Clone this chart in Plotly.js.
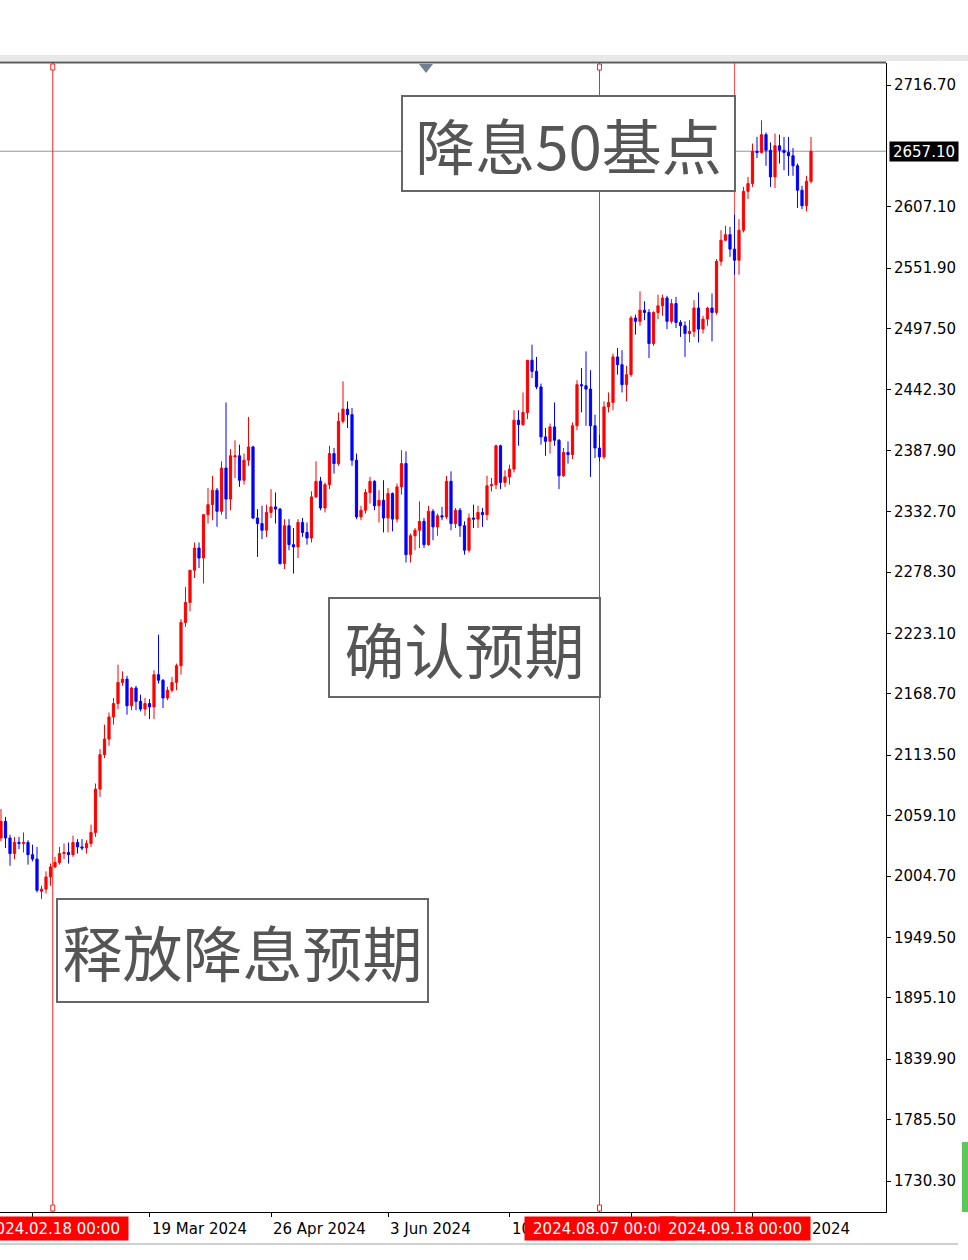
<!DOCTYPE html>
<html>
<head>
<meta charset="utf-8">
<script src="https://cdn.plot.ly/plotly-3.0.1.min.js"></script>
<style>
html,body{margin:0;padding:0;background:#fff;}
#chart{width:968px;height:1260px;}
</style>
</head>
<body>
<div id="chart"></div>
<script>
// ---- data (XAUUSD daily) ----
const dates = [
"2024-01-31",
"2024-02-01","2024-02-02","2024-02-05","2024-02-06","2024-02-07","2024-02-08","2024-02-09","2024-02-12","2024-02-13","2024-02-14","2024-02-15","2024-02-16","2024-02-19","2024-02-20","2024-02-21","2024-02-22","2024-02-23","2024-02-26","2024-02-27","2024-02-28","2024-02-29",
"2024-03-01","2024-03-04","2024-03-05","2024-03-06","2024-03-07","2024-03-08","2024-03-11","2024-03-12","2024-03-13","2024-03-14","2024-03-15","2024-03-18","2024-03-19","2024-03-20","2024-03-21","2024-03-22","2024-03-25","2024-03-26","2024-03-27","2024-03-28",
"2024-04-01","2024-04-02","2024-04-03","2024-04-04","2024-04-05","2024-04-08","2024-04-09","2024-04-10","2024-04-11","2024-04-12","2024-04-15","2024-04-16","2024-04-17","2024-04-18","2024-04-19","2024-04-22","2024-04-23","2024-04-24","2024-04-25","2024-04-26","2024-04-29","2024-04-30",
"2024-05-01","2024-05-02","2024-05-03","2024-05-06","2024-05-07","2024-05-08","2024-05-09","2024-05-10","2024-05-13","2024-05-14","2024-05-15","2024-05-16","2024-05-17","2024-05-20","2024-05-21","2024-05-22","2024-05-23","2024-05-24","2024-05-27","2024-05-28","2024-05-29","2024-05-30","2024-05-31",
"2024-06-03","2024-06-04","2024-06-05","2024-06-06","2024-06-07","2024-06-10","2024-06-11","2024-06-12","2024-06-13","2024-06-14","2024-06-17","2024-06-18","2024-06-19","2024-06-20","2024-06-21","2024-06-24","2024-06-25","2024-06-26","2024-06-27","2024-06-28",
"2024-07-01","2024-07-02","2024-07-03","2024-07-04","2024-07-05","2024-07-08","2024-07-09","2024-07-10","2024-07-11","2024-07-12","2024-07-15","2024-07-16","2024-07-17","2024-07-18","2024-07-19","2024-07-22","2024-07-23","2024-07-24","2024-07-25","2024-07-26","2024-07-29","2024-07-30","2024-07-31",
"2024-08-01","2024-08-02","2024-08-05","2024-08-06","2024-08-07","2024-08-08","2024-08-09","2024-08-12","2024-08-13","2024-08-14","2024-08-15","2024-08-16","2024-08-19","2024-08-20","2024-08-21","2024-08-22","2024-08-23","2024-08-26","2024-08-27","2024-08-28","2024-08-29","2024-08-30",
"2024-09-02","2024-09-03","2024-09-04","2024-09-05","2024-09-06","2024-09-09","2024-09-10","2024-09-11","2024-09-12","2024-09-13","2024-09-16","2024-09-17","2024-09-18","2024-09-19","2024-09-20","2024-09-23","2024-09-24","2024-09-25","2024-09-26","2024-09-27","2024-09-30",
"2024-10-01","2024-10-02","2024-10-03","2024-10-04","2024-10-07","2024-10-08","2024-10-09","2024-10-10","2024-10-11"
];
const openP = [
2036,
2039,2054,2039,2025,2035,2034,2035,2024,2020,1991,1993,2004,2013,2017,2025,2026,2024,2035,2031,2030,2034,
2044,2083,2114,2128,2148,2160,2179,2182,2158,2174,2162,2155,2160,2157,2186,2181,2165,2172,2179,2194,
2233,2251,2280,2300,2291,2330,2339,2352,2333,2372,2344,2382,2383,2361,2379,2391,2327,2322,2316,2332,2337,2335,
2286,2320,2303,2301,2323,2314,2309,2346,2360,2336,2357,2385,2376,2414,2425,2420,2379,2328,2334,2350,2360,2338,2343,
2327,2349,2326,2355,2376,2294,2311,2316,2324,2303,2333,2319,2329,2328,2360,2322,2334,2320,2298,2327,
2326,2332,2330,2356,2357,2392,2359,2364,2371,2415,2411,2422,2469,2459,2445,2400,2396,2409,2397,2365,2386,2384,2410,
2447,2446,2443,2410,2390,2382,2427,2431,2472,2465,2447,2456,2507,2504,2514,2512,2484,2512,2518,2525,2504,2520,
2503,2500,2493,2495,2516,2497,2506,2516,2512,2558,2577,2582,2569,2559,2586,2621,2628,2657,2656,2672,2658,
2634,2662,2658,2656,2653,2644,2622,2608,2630
];
const highP = [
2055,
2065,2058,2042,2040,2040,2044,2037,2033,2031,1996,2009,2016,2022,2031,2034,2035,2041,2038,2038,2037,2051,
2088,2119,2141,2152,2165,2195,2189,2185,2175,2176,2168,2165,2164,2190,2222,2182,2175,2184,2196,2236,
2265,2280,2305,2305,2330,2354,2365,2354,2378,2431,2389,2397,2393,2385,2418,2392,2335,2338,2339,2353,2350,2336,
2326,2326,2318,2326,2327,2323,2351,2378,2364,2359,2392,2390,2422,2450,2432,2426,2385,2338,2353,2364,2361,2352,2361,
2354,2350,2358,2388,2387,2313,2318,2342,2327,2338,2335,2331,2337,2365,2369,2336,2336,2324,2331,2339,
2338,2336,2365,2363,2393,2393,2370,2375,2424,2424,2440,2469,2483,2472,2448,2408,2412,2431,2398,2390,2396,2413,2451,
2462,2477,2460,2420,2402,2432,2440,2475,2480,2478,2464,2509,2510,2531,2522,2515,2513,2528,2528,2527,2524,2526,
2505,2504,2505,2523,2530,2509,2517,2529,2560,2586,2590,2589,2600,2596,2625,2634,2664,2670,2685,2674,2665,
2673,2672,2670,2670,2660,2646,2626,2635,2670
];
const lowP = [
2031,
2036,2030,2014,2020,2029,2026,2015,2018,1990,1984,1989,1996,2012,2015,2020,2016,2022,2025,2028,2025,2031,
2040,2076,2111,2122,2141,2155,2176,2150,2154,2154,2153,2149,2146,2146,2178,2156,2163,2170,2172,2186,
2229,2243,2273,2282,2268,2322,2325,2319,2330,2326,2334,2363,2355,2357,2374,2326,2292,2308,2310,2327,2322,2285,
2281,2298,2277,2291,2310,2303,2305,2345,2334,2332,2353,2367,2374,2412,2408,2374,2326,2325,2331,2340,2334,2323,2314,
2314,2315,2323,2348,2287,2287,2298,2300,2300,2302,2307,2311,2325,2326,2316,2318,2310,2294,2296,2318,
2318,2319,2325,2351,2353,2353,2355,2357,2368,2392,2410,2416,2453,2443,2393,2383,2385,2392,2353,2364,2376,2380,2406,
2422,2410,2364,2381,2378,2380,2422,2424,2456,2440,2432,2454,2492,2500,2505,2471,2482,2506,2509,2497,2502,2498,
2490,2472,2485,2490,2485,2493,2500,2486,2510,2554,2576,2562,2546,2546,2584,2614,2625,2651,2655,2644,2625,
2624,2646,2640,2635,2635,2606,2605,2603,2628
];
const closeP = [
2039,
2054,2039,2025,2035,2034,2035,2024,2020,1992,1993,2004,2013,2017,2025,2026,2024,2035,2031,2030,2034,2044,
2083,2114,2128,2148,2160,2179,2182,2158,2174,2162,2155,2160,2157,2186,2181,2165,2172,2179,2194,2233,
2251,2280,2300,2291,2330,2339,2352,2333,2372,2344,2383,2383,2361,2379,2391,2327,2322,2316,2332,2337,2335,2286,
2320,2303,2301,2323,2314,2309,2346,2360,2336,2357,2385,2376,2414,2425,2420,2379,2328,2334,2350,2360,2338,2343,2327,
2349,2326,2355,2376,2294,2311,2316,2324,2303,2333,2319,2329,2328,2360,2322,2334,2320,2298,2327,2326,
2332,2330,2356,2357,2392,2359,2364,2371,2415,2411,2422,2469,2459,2445,2400,2396,2409,2397,2365,2386,2384,2410,2447,
2446,2443,2410,2390,2382,2427,2431,2472,2465,2447,2456,2507,2504,2514,2512,2484,2512,2518,2525,2504,2520,2503,
2500,2493,2495,2516,2497,2506,2516,2512,2558,2577,2582,2569,2559,2586,2621,2628,2657,2656,2672,2658,2634,
2662,2658,2656,2653,2644,2622,2608,2630,2657.10
];
const priceTicks = [2716.70,2607.10,2551.90,2497.50,2442.30,2387.90,2332.70,2278.30,2223.10,2168.70,2113.50,2059.10,2004.70,1949.50,1895.10,1839.90,1785.50,1730.30];
const timeTicks = ["2024-02-12","2024-03-19","2024-04-26","2024-06-03","2024-07-10","2024-08-16","2024-09-24"];
// labels of ticks that are fully hidden under the red event labels are left empty
const timeTickLabels = ["","19 Mar 2024","26 Apr 2024","3 Jun 2024","10 Jul 2024","","24 Sep 2024"];
const eventLines = ["2024-02-18","2024-08-07","2024-09-18"];
const eventLabels = ["2024.02.18 00:00","2024.08.07 00:00","2024.09.18 00:00"];
const noteTexts = ["降息50基点","确认预期","释放降息预期"];
const currentPrice = closeP[closeP.length-1];

// ---- geometry helpers (pixel layout of the MT4 window) ----
const W = 968, H = 1260;
const PL = 0, PR = 886, PT = 63, PB = 1212;
const pw = PR - PL, ph = PB - PT;
const px = x => (x - PL) / pw;
const py = y => (PB - y) / ph;
const mid = d => d + " 12:00";
// event line position: bar centre for trading days, bar boundary for weekend times
const evX = d => {
  const wd = new Date(d + "T00:00:00Z").getUTCDay();
  if (wd === 0 || wd === 6) {
    const t = new Date(d + "T00:00:00Z");
    t.setUTCDate(t.getUTCDate() + (wd === 6 ? 2 : 1));
    return t.toISOString().slice(0, 10) + " 00:00";
  }
  return mid(d);
};

const UP = "#ff0000", DN = "#0000ff";
const TXT = "DejaVu Sans";
const FS = 15;

const trace = {
  type: "candlestick",
  x: dates.map(mid),
  open: openP, high: highP, low: lowP, close: closeP,
  increasing: {line: {color: UP, width: 1}, fillcolor: UP},
  decreasing: {line: {color: DN, width: 1}, fillcolor: DN},
  whiskerwidth: 0,
  hoverinfo: "skip",
  showlegend: false
};

const shapes = [];
// window frame band above chart
shapes.push({type:"rect", xref:"paper", yref:"paper", x0:-0.01, x1:W/pw, y0:py(61), y1:py(55), fillcolor:"#e8e8e8", line:{width:0}, layer:"below"});
shapes.push({type:"line", xref:"paper", yref:"paper", x0:0, x1:1, y0:py(62.5), y1:py(62.5), line:{color:"#5a5a5a", width:2}});
// current price line
shapes.push({type:"line", xref:"paper", yref:"y", x0:0, x1:1, y0:currentPrice, y1:currentPrice, line:{color:"#8a9a9a", width:1}, layer:"below"});
// event vertical lines
eventLines.forEach((d, i) => {
  const xv = evX(d);
  shapes.push({type:"line", xref:"x", yref:"paper", x0:xv, x1:xv, y0:0, y1:1,
    line:{color: i === 2 ? "#ff5050" : "#ff2020", width:1}, layer:"below"});
  if (i < 2) {
    shapes.push({type:"rect", xref:"x", xsizemode:"pixel", xanchor:xv, x0:-2, x1:2,
      yref:"paper", ysizemode:"pixel", yanchor:1, y0:-7, y1:-1, line:{color:"#ff2020", width:1}, fillcolor:"#ffffff"});
    shapes.push({type:"rect", xref:"x", xsizemode:"pixel", xanchor:xv, x0:-2, x1:2,
      yref:"paper", ysizemode:"pixel", yanchor:0, y0:1, y1:7, line:{color:"#ff2020", width:1}, fillcolor:"#ffffff"});
  }
});
// chart shift triangle
shapes.push({type:"path", xref:"paper", xsizemode:"pixel", xanchor:px(426), yref:"paper", ysizemode:"pixel", yanchor:1,
  path:"M -7 -1 L 7 -1 L 0 -10 Z", fillcolor:"#6e7f90", line:{width:0}});
// bottom window edge
shapes.push({type:"line", xref:"paper", yref:"paper", x0:-0.01, x1:px(958), y0:py(1244), y1:py(1244), line:{color:"#d0d0d0", width:2}});
// green strip of the neighbouring panel (bottom right)
shapes.push({type:"rect", xref:"paper", yref:"paper", x0:px(962), x1:px(969), y0:py(1212), y1:py(1142), fillcolor:"#5cc85c", line:{width:0}});

const annotations = [];
// time axis labels (left aligned after tick, MT4 style)
timeTicks.forEach((d, i) => {
  if (!timeTickLabels[i]) return;
  annotations.push({xref:"x", x:mid(d), yref:"paper", y:0, xanchor:"left", yanchor:"top", yshift:-6, xshift:0,
    text: timeTickLabels[i], showarrow:false, font:{family:TXT, size:FS, color:"#000"}});
});
// event labels on time axis
eventLines.forEach((d, i) => {
  annotations.push({xref:"x", x:evX(d), yref:"paper", y:0, xanchor:"center", yanchor:"top", yshift:-4,
    text: eventLabels[i], showarrow:false, bgcolor:UP, width:150, height:23, borderpad:0,
    font:{family:TXT, size:FS, color:"#ffffff"}});
});
// current price label
annotations.push({xref:"paper", x:1, yref:"y", y:currentPrice, xanchor:"left", yanchor:"middle", xshift:3,
  text: currentPrice.toFixed(2), showarrow:false, bgcolor:"#000", width:68, height:19, borderpad:0,
  font:{family:TXT, size:FS, color:"#fff"}});
// text boxes
const boxes = [
  {cx:568.5, cy:143.5, w:335, h:97},
  {cx:464.5, cy:647.5, w:273, h:101},
  {cx:242.5, cy:950.5, w:373, h:105}
];
noteTexts.forEach((t, i) => {
  const b = boxes[i];
  annotations.push({xref:"paper", yref:"paper", x:px(b.cx), y:py(b.cy), xanchor:"center", yanchor:"middle",
    text:t, showarrow:false, width:b.w-4, height:b.h-4, borderpad:0, borderwidth:2,
    bordercolor:"#666666", bgcolor:"#ffffff",
    font:{family:"Noto Sans CJK SC", size:60, color:"#555555"}});
});

const layout = {
  width: W, height: H,
  margin: {l: PL, r: W - PR, t: PT, b: H - PB, pad: 0},
  paper_bgcolor: "#ffffff", plot_bgcolor: "#ffffff",
  font: {family: TXT, size: FS, color: "#000"},
  showlegend: false,
  dragmode: false,
  xaxis: {
    type: "date",
    range: ["2024-02-01 06:40", "2024-11-05 04:00"],
    rangebreaks: [{bounds: ["sat", "mon"]}, {values: ["2024-03-29"]}],
    rangeslider: {visible: false},
    showgrid: false, zeroline: false,
    showline: true, linecolor: "#000", linewidth: 1,
    ticks: "outside", ticklen: 4, tickcolor: "#000", tickwidth: 1,
    tickvals: timeTicks.map(mid), showticklabels: false,
    fixedrange: true
  },
  yaxis: {
    side: "right",
    range: [1702.4, 2736.5],
    showgrid: false, zeroline: false,
    showline: true, linecolor: "#000", linewidth: 1,
    ticks: "outside", ticklen: 4, tickcolor: "#000", tickwidth: 1,
    tickvals: priceTicks, ticktext: priceTicks.map(v => v.toFixed(2)),
    tickfont: {family: TXT, size: FS, color: "#000"},
    fixedrange: true
  },
  shapes: shapes,
  annotations: annotations
};

Plotly.newPlot("chart", [trace], layout, {displayModeBar: false, staticPlot: true});
</script>
</body>
</html>
